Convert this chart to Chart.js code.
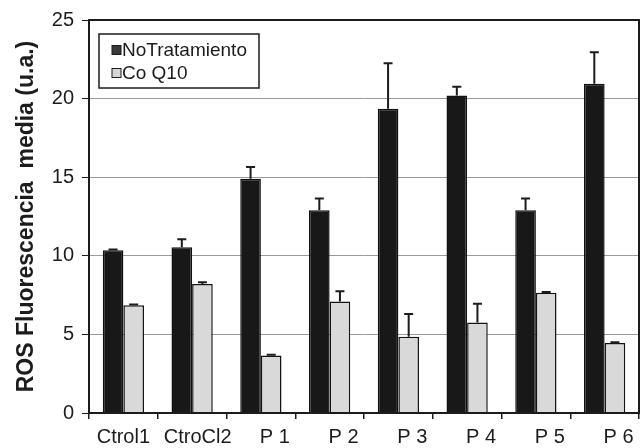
<!DOCTYPE html>
<html>
<head>
<meta charset="utf-8">
<script src="https://cdn.jsdelivr.net/npm/chart.js@4"></script>
<style>
  html, body { margin: 0; padding: 0; background: #fff; }
</style>
</head>
<body>
<canvas id="rosChart" width="643" height="448"></canvas>
<script>
const categories = ['Ctrol1', 'CtroCl2', 'P 1', 'P 2', 'P 3', 'P 4', 'P 5', 'P 6'];
const noTratamiento = [10.35, 10.55, 14.9, 12.9, 19.35, 20.2, 12.9, 20.95];
const noTratamientoErr = [0.05, 0.5, 0.75, 0.75, 2.9, 0.55, 0.75, 2.0];
const coQ10 = [6.85, 8.2, 3.65, 7.1, 4.85, 5.75, 7.65, 4.45];
const coQ10Err = [0.05, 0.12, 0.05, 0.65, 1.45, 1.2, 0.05, 0.05];
const errors = [noTratamientoErr, coQ10Err];

const FONT = 'Liberation Sans, Arial, sans-serif';
const INK = '#1c1c1c';

// upward error bars, drawn from the bar tops using the y scale
const errorBars = {
    id: 'errorBars',
    afterDatasetsDraw(chart) {
        const ctx = chart.ctx;
        const y = chart.scales.y;
        ctx.save();
        ctx.strokeStyle = INK;
        ctx.lineWidth = 2;
        chart.data.datasets.forEach((ds, i) => {
            const meta = chart.getDatasetMeta(i);
            meta.data.forEach((bar, j) => {
                const top = y.getPixelForValue(ds.data[j] + errors[i][j]);
                ctx.beginPath();
                ctx.moveTo(bar.x, bar.y);
                ctx.lineTo(bar.x, top);
                ctx.moveTo(bar.x - 4.5, top);
                ctx.lineTo(bar.x + 4.5, top);
                ctx.stroke();
            });
        });
        ctx.restore();
    }
};

// box around the plot area
const frame = {
    id: 'frame',
    afterDraw(chart) {
        const { left, top, width, height } = chart.chartArea;
        const ctx = chart.ctx;
        ctx.save();
        ctx.strokeStyle = INK;
        ctx.lineWidth = 2;
        ctx.strokeRect(left, top, width, height);
        ctx.restore();
    }
};

// legend inside the plot, top-left, with a border
const boxLegend = {
    id: 'boxLegend',
    afterDraw(chart) {
        const ctx = chart.ctx;
        const area = chart.chartArea;
        const x = area.left + 10, y = area.top + 14;
        ctx.save();
        ctx.fillStyle = '#fff';
        ctx.fillRect(x, y, 160, 54);
        ctx.strokeStyle = INK;
        ctx.lineWidth = 1.5;
        ctx.strokeRect(x, y, 160, 54);
        ctx.font = '19px ' + FONT;
        ctx.textBaseline = 'middle';
        chart.data.datasets.forEach((ds, i) => {
            const cy = y + 16 + i * 23;
            ctx.fillStyle = i === 0 ? '#3a3a3a' : '#d6d6d6';
            ctx.fillRect(x + 13, cy - 4.5, 9, 9);
            ctx.lineWidth = 1;
            ctx.strokeRect(x + 13, cy - 4.5, 9, 9);
            ctx.fillStyle = INK;
            ctx.fillText(ds.label, x + 23, cy + 1);
        });
        ctx.restore();
    }
};

// labels in the original sit a little right of the category centre
const labelShift = { 'Ctrol1': '', 'CtroCl2': '  ' };

const canvas = document.getElementById('rosChart');
new Chart(canvas.getContext('2d'), {
    type: 'bar',
    data: {
        labels: categories,
        datasets: [{
            label: 'NoTratamiento',
            data: noTratamiento,
            backgroundColor: '#181818',
            borderColor: '#111',
            borderWidth: 1.5
        }, {
            label: 'Co Q10',
            data: coQ10,
            backgroundColor: '#d9d9d9',
            borderColor: '#151515',
            borderWidth: 1.5
        }]
    },
    options: {
        responsive: false,
        animation: false,
        layout: { padding: { top: 17, right: 4, left: 0, bottom: 0 } },
        datasets: { bar: { categoryPercentage: 0.6, barPercentage: 1.0 } },
        plugins: {
            legend: { display: false },
            tooltip: { enabled: false }
        },
        scales: {
            x: {
                grid: {
                    offset: true,
                    drawOnChartArea: false,
                    tickLength: 6,
                    color: INK,
                    lineWidth: 1.5
                },
                border: { color: INK, width: 2 },
                ticks: {
                    color: INK,
                    padding: 6,
                    autoSkip: false,
                    maxRotation: 0,
                    font: { family: FONT, size: 20 },
                    callback(value) {
                        const name = categories[value];
                        const pad = name in labelShift ? labelShift[name] : '     ';
                        return pad + name;
                    }
                },
                afterFit(scale) { scale.height = 35; }
            },
            y: {
                min: 0,
                max: 25,
                ticks: {
                    stepSize: 5,
                    color: INK,
                    padding: 8,
                    font: { family: FONT, size: 20 }
                },
                grid: {
                    color: '#9a9a9a',
                    tickColor: INK,
                    tickLength: 7,
                    lineWidth: 1
                },
                border: { color: INK, width: 2 },
                title: {
                    display: true,
                    text: 'ROS Fluorescencia  media (u.a.)',
                    color: INK,
                    font: { family: FONT, size: 23, weight: 'bold' },
                    padding: { top: 13, bottom: 0 }
                },
                afterFit(scale) { scale.width = 89; }
            }
        }
    },
    plugins: [errorBars, frame, boxLegend]
});
</script>
</body>
</html>
